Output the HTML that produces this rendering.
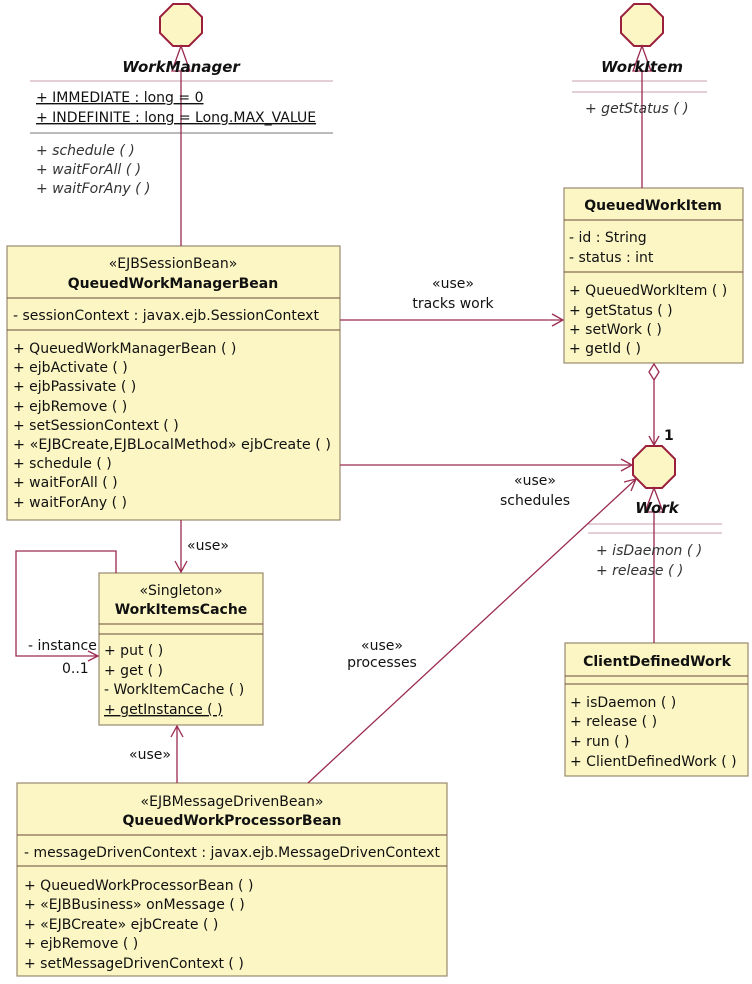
<!DOCTYPE html>
<html><head><meta charset="utf-8"><style>
html,body{margin:0;padding:0;background:#fff;}
svg text{font-family:"DejaVu Sans","Liberation Sans",sans-serif;font-size:14px;fill:#111;}
.b{font-weight:bold;}
.i{font-style:italic;fill:#333;}
</style></head><body>
<svg width="752" height="979" viewBox="0 0 752 979" xmlns="http://www.w3.org/2000/svg">
<g fill="#fbf6c4" stroke="#9a8a70" stroke-width="1.2">
<rect x="7" y="246" width="333" height="274"/>
<rect x="564" y="188" width="179" height="175"/>
<rect x="99" y="573" width="164" height="152"/>
<rect x="565" y="643" width="183" height="133"/>
<rect x="17" y="783" width="430" height="193"/>
</g>
<g stroke="#6b4a3a" stroke-width="1">
<line x1="7" y1="298" x2="340" y2="298"/><line x1="7" y1="330" x2="340" y2="330"/>
<line x1="564" y1="220" x2="743" y2="220"/><line x1="564" y1="272" x2="743" y2="272"/>
<line x1="99" y1="624" x2="263" y2="624"/><line x1="99" y1="634" x2="263" y2="634"/>
<line x1="565" y1="676" x2="748" y2="676"/><line x1="565" y1="684" x2="748" y2="684"/>
<line x1="17" y1="835" x2="447" y2="835"/><line x1="17" y1="866" x2="447" y2="866"/>
</g>
<g stroke="#c9a0aa" stroke-width="1">
<line x1="30" y1="81" x2="333" y2="81"/>
<line x1="572" y1="81" x2="707" y2="81"/><line x1="572" y1="92" x2="707" y2="92"/>
<line x1="588" y1="524" x2="722" y2="524"/><line x1="588" y1="533" x2="722" y2="533"/>
</g>
<line x1="30" y1="133" x2="333" y2="133" stroke="#777"/>
<g fill="#fbf6c4" stroke="#9a1f3c" stroke-width="2">
<polygon points="173,4 189,4 202,17 202,33 189,46 173,46 160,33 160,17"/>
<polygon points="634,4 650,4 663,17 663,33 650,46 634,46 621,33 621,17"/>
<polygon points="646,446 662,446 675,459 675,475 662,488 646,488 633,475 633,459"/>
</g>
<g fill="none" stroke="#9a2b4f" stroke-width="1.3">
<line x1="181" y1="60" x2="181" y2="246"/>
<polygon points="181,46 172,71 190,71" fill="#fff"/>
<line x1="642" y1="60" x2="642" y2="188"/>
<polygon points="642,46 633,71 651,71" fill="#fff"/>
<line x1="654" y1="502" x2="654" y2="643"/>
<polygon points="654,488 645,512 663,512" fill="#fff"/>
<line x1="340" y1="320" x2="563" y2="320"/><polyline points="552,314 563,320 552,326"/>
<line x1="340" y1="465" x2="632" y2="465"/><polyline points="621,459 632,465 621,471"/>
<polygon points="654,364 649,372 654,380 659,372" fill="#fff"/>
<line x1="654" y1="380" x2="654" y2="445"/><polyline points="649,436 654,445 659,436"/>
<line x1="181" y1="520" x2="181" y2="572"/><polyline points="175,561 181,572 187,561"/>
<polyline points="116,573 116,551 16,551 16,656 98,656"/><polyline points="88,651 98,656 88,661"/>
<line x1="177" y1="783" x2="177" y2="726"/><polyline points="171,737 177,726 183,737"/>
<line x1="308" y1="783" x2="636" y2="479"/><polyline points="624,482 636,479 631,491"/>
</g>
<text x="181" y="72" text-anchor="middle" class="b i" style="fill:#111;font-size:15px">WorkManager</text>
<text x="36" y="102" text-decoration="underline">+ IMMEDIATE : long = 0</text>
<text x="36" y="122" text-decoration="underline">+ INDEFINITE : long = Long.MAX_VALUE</text>
<text x="36" y="155" class="i">+ schedule (  )</text>
<text x="36" y="174" class="i">+ waitForAll (  )</text>
<text x="36" y="193" class="i">+ waitForAny (  )</text>
<text x="642" y="72" text-anchor="middle" class="b i" style="fill:#111;font-size:15px">WorkItem</text>
<text x="585" y="113" class="i">+ getStatus (  )</text>
<text x="173" y="268" text-anchor="middle">«EJBSessionBean»</text>
<text x="173" y="288" text-anchor="middle" class="b">QueuedWorkManagerBean</text>
<text x="13" y="320">- sessionContext : javax.ejb.SessionContext</text>
<text x="13" y="353">+ QueuedWorkManagerBean (  )</text>
<text x="13" y="372">+ ejbActivate (  )</text>
<text x="13" y="391">+ ejbPassivate (  )</text>
<text x="13" y="411">+ ejbRemove (  )</text>
<text x="13" y="430">+ setSessionContext (  )</text>
<text x="13" y="449" textLength="318" lengthAdjust="spacingAndGlyphs">+ «EJBCreate,EJBLocalMethod» ejbCreate (  )</text>
<text x="13" y="468">+ schedule (  )</text>
<text x="13" y="487">+ waitForAll (  )</text>
<text x="13" y="507">+ waitForAny (  )</text>
<text x="653" y="210" text-anchor="middle" class="b">QueuedWorkItem</text>
<text x="569" y="242">- id : String</text>
<text x="569" y="262">- status : int</text>
<text x="569" y="295">+ QueuedWorkItem (  )</text>
<text x="569" y="315">+ getStatus (  )</text>
<text x="569" y="334">+ setWork (  )</text>
<text x="569" y="353">+ getId (  )</text>
<text x="453" y="288" text-anchor="middle">«use»</text>
<text x="453" y="308" text-anchor="middle">tracks work</text>
<text x="664" y="440" class="b">1</text>
<text x="535" y="485" text-anchor="middle">«use»</text>
<text x="535" y="505" text-anchor="middle">schedules</text>
<text x="657" y="513" text-anchor="middle" class="b i" style="fill:#111;font-size:15px">Work</text>
<text x="596" y="555" class="i">+ isDaemon (  )</text>
<text x="596" y="575" class="i">+ release (  )</text>
<text x="657" y="666" text-anchor="middle" class="b">ClientDefinedWork</text>
<text x="570" y="707">+ isDaemon (  )</text>
<text x="570" y="726">+ release (  )</text>
<text x="570" y="746">+ run (  )</text>
<text x="570" y="766">+ ClientDefinedWork (  )</text>
<text x="181" y="595" text-anchor="middle">«Singleton»</text>
<text x="181" y="614" text-anchor="middle" class="b">WorkItemsCache</text>
<text x="104" y="655">+ put (  )</text>
<text x="104" y="675">+ get (  )</text>
<text x="104" y="694">- WorkItemCache (  )</text>
<text x="104" y="714" text-decoration="underline">+ getInstance (  )</text>
<text x="208" y="550" text-anchor="middle">«use»</text>
<text x="28" y="650">- instance</text>
<text x="62" y="673">0..1</text>
<text x="150" y="759" text-anchor="middle">«use»</text>
<text x="382" y="650" text-anchor="middle">«use»</text>
<text x="382" y="667" text-anchor="middle">processes</text>
<text x="232" y="806" text-anchor="middle">«EJBMessageDrivenBean»</text>
<text x="232" y="825" text-anchor="middle" class="b">QueuedWorkProcessorBean</text>
<text x="24" y="857" textLength="416" lengthAdjust="spacingAndGlyphs">- messageDrivenContext : javax.ejb.MessageDrivenContext</text>
<text x="24" y="890">+ QueuedWorkProcessorBean (  )</text>
<text x="24" y="909">+ «EJBBusiness» onMessage (  )</text>
<text x="24" y="929">+ «EJBCreate» ejbCreate (  )</text>
<text x="24" y="948">+ ejbRemove (  )</text>
<text x="24" y="968">+ setMessageDrivenContext (  )</text>
</svg>
</body></html>
